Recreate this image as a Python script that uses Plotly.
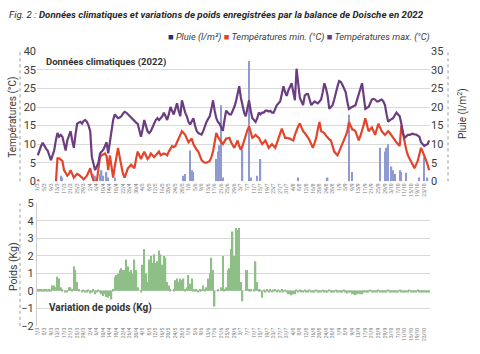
import plotly.graph_objects as go
import pandas as pd

# ---------------- data ----------------
dates = pd.date_range("2022-03-01", periods=240, freq="D")

tmax = [
    7, 8.5, 9.5, 10.4, 9.5, 8.8, 8.3, 7, 5.7, 7, 8.3, 11, 13, 12, 12.5, 12, 10, 8.3, 11, 12.5,
    13.5, 11, 9, 12.5, 15.5, 15.8, 16, 15.5, 16.3, 16.5, 16, 15, 13.5, 6.5, 4.5, 3, 4, 5, 7.5, 8,
    8.5, 9.5, 10.5, 7.5, 11, 14.5, 16.5, 18, 17.5, 17, 17.2, 17.5, 18.2, 18.7, 18.5, 18, 17.5, 17, 16.5, 16,
    15.8, 15.5, 13.5, 12, 14, 16.5, 15, 13.5, 13, 13.5, 14.5, 15.5, 16.5, 17, 16.5, 17, 17.5, 18.5, 17.5, 16.5,
    18, 20, 19, 18, 19.5, 21, 19, 17.5, 21.8, 20, 18.5, 17.5, 16, 15.3, 16, 17, 15, 13.6, 13, 12.8,
    12.6, 13.5, 15, 16, 16.8, 17.5, 19.5, 21.8, 19, 17, 16, 15.5, 14.5, 13.6, 16.5, 19, 18.5, 18, 18, 19,
    20, 21.5, 23.5, 25.6, 22.5, 20, 18.5, 17.5, 19.5, 21.8, 19, 17, 16.5, 16, 17, 18.5, 18, 18.5, 18.5, 19,
    19, 18.8, 19, 18.5, 18.5, 19.5, 20.5, 21, 21.5, 23.5, 25.6, 24, 23, 24.5, 25.5, 26.4, 24, 21.8, 30.3, 26,
    22.5, 21.5, 20.5, 23, 23.5, 23.5, 22, 20.5, 21, 21.5, 21.2, 21, 21.5, 22, 24, 26.4, 25, 23, 19.5, 20,
    20.5, 22, 24, 25.5, 27, 26.8, 26, 25, 24, 21.5, 19.5, 19.8, 20, 20.2, 20.5, 22, 23.5, 25, 26.4, 23,
    19.5, 19.8, 20, 21, 22, 22.2, 22, 21.5, 21.5, 21.8, 22, 21.5, 20.5, 18, 16, 16.5, 16.8, 17, 17.8, 18.5,
    18, 17.5, 15.5, 13, 11.7, 12, 12.5, 12.5, 12.6, 12.8, 12.6, 12.6, 12.3, 12, 10.5, 10, 9.5, 9.8, 10, 11,
]

tmin = [
    0.5, -1, -2, -1.5, -3, -2, -1, -2.5, -3, -2, -1.5, -0.5, 6.2, 6.2, 5.8, 5.5, 3, 2, 1.5, 2,
    3, 2, 1, 1.5, 2, 1.8, 1.5, 1, 0.5, 1, 1.5, 2.5, 3.5, 1.5, 0, -1, 0, 3, 6.5, 7,
    7.2, 7.5, 6.8, 3, 7, 4, 1, 4, 7, 9, 6.5, 4, 2, 1, 2, 3.5, 4, 4.5, 4, 3.5,
    6, 8, 7, 6, 7, 8, 7, 6, 6.5, 7.5, 7, 6.5, 7, 7.5, 8, 7, 7.2, 7.5, 7.3, 7,
    8, 9, 9.5, 9.2, 9.5, 10.5, 11.7, 12.5, 13.5, 13, 12.5, 11.5, 10.5, 11, 11.5, 10, 9, 8.5, 8, 7,
    5.7, 5.3, 5, 5, 5.2, 5.5, 6.5, 8, 10.5, 13, 12, 11, 10.5, 10, 10.8, 11.5, 11.6, 11.7, 10.5, 9.8,
    9, 10, 11, 9.5, 8.5, 9.5, 11, 12.5, 13.8, 14.8, 13, 11.7, 12, 12.5, 12, 11.7, 10.8, 10, 10.5, 11,
    10, 9, 9.5, 10, 9.5, 9, 10.3, 11.7, 13, 14.2, 13, 11.7, 11.7, 11.7, 11.5, 11.2, 11, 12.5, 14, 14.8,
    15.6, 14.5, 13.5, 13, 12.5, 11.8, 11, 10, 9, 10.3, 11.7, 14, 16, 13.5, 13.2, 13, 12.3, 11.7, 11.3, 11,
    9.5, 8, 7.5, 7, 8, 9, 10, 11, 12.2, 13.5, 16, 15, 14, 13.8, 13.5, 12.2, 11, 12.2, 13.5, 15.2,
    17, 15, 13.5, 14, 14.5, 13.5, 12.5, 14, 15.5, 14.5, 13.5, 13, 12.5, 13, 13.5, 13, 12.3, 11.7, 11, 10.5,
    10, 9.5, 15, 12.5, 10.5, 8.5, 7, 6.2, 5.5, 4.5, 3.5, 4.5, 5.5, 7.2, 9, 8, 7, 5.8, 4.5, 3,
]

rain = [
    0, 0, 0, 0, 0, 0, 0, 0, 0, 0, 0, 0, 0, 0, 1.5, 1, 0, 0, 0, 0,
    0, 0, 0, 0, 0, 0, 0, 0, 0, 0, 0, 0, 0, 0, 2, 1.5, 0, 0, 2, 3,
    1.5, 0, 2.5, 1, 0, 0, 0, 1, 0, 0, 0, 0, 0, 0, 0, 0, 0, 0, 0, 0,
    0, 0, 0, 0, 0, 0, 0, 0, 0, 0, 0, 0, 0, 0, 0, 0, 0, 0, 0, 0,
    0, 0, 0, 0, 0, 0, 0, 0, 0, 1.5, 2, 0, 0, 8.3, 3, 2.5, 0, 0, 0, 0,
    0, 0, 0, 0, 0, 0, 0, 0, 0, 6, 8, 9.7, 20.5, 1, 0, 0, 0, 0, 0, 0,
    0, 0, 0, 0, 0, 8.5, 0, 0, 0, 32.4, 1, 0, 0, 0, 1.5, 0, 6, 0, 0, 0,
    0, 0, 0, 0, 0, 0, 0, 0, 0, 0, 0, 0, 0, 0, 0, 0, 0, 0, 0, 1,
    0, 0, 0, 0, 0, 0, 0, 0, 0, 0, 0, 0, 0, 0, 0, 0, 0, 1, 0, 0,
    0, 0, 0, 0, 0, 0, 0, 0, 0, 0, 18, 0, 2.5, 0, 0, 0, 0, 0, 0, 0,
    0, 0, 0, 0, 0, 0, 0, 0, 0, 9, 0, 0, 8, 9, 10, 0, 4, 3, 2, 0,
    0, 3, 2.5, 0, 0, 2.3, 0, 0, 0, 0, 0, 0, 0, 1, 0, 0, 6.5, 0, 1, 0,
]

weight = [
    0.1, 0.1, 0.1, 0.05, 0.1, 0.1, 0.05, 0.1, 0.05, 0.3, 0.3, 0.2, 0.8, 0.7, 0.2, 0.1, 0, -0.1, -0.1, 0.2,
    0.2, 0.1, 1.4, 1.2, 0.5, 0.1, 0, -0.1, 0.05, -0.1, -0.1, 0.05, -0.15, -0.1, 0.1, -0.2, -0.1, 0.05, -0.1, -0.2,
    -0.3, -0.2, -0.35, -0.4, -0.3, -0.5, 0.1, 0.8, 0.9, 1.0, 1.2, 1.3, 1.2, 1.2, 1.8, 1.4, 1.1, 1.2, 1.0, 1.8,
    1.2, 0.2, 0, -0.1, 1.5, 2.4, 1.0, 0.5, 1.8, 2.0, 1.6, 2.1, 1.6, 1.7, 2.3, 2.1, 1.5, 2.0, 1.9, 0.5,
    0.3, 0.1, 0, 0.1, 0.6, 0.7, 0.5, 0.7, 0.6, 0.7, 0.1, 0.2, 0.9, 0.4, 0.7, 0.1, 0.05, 0.1, -0.1, 0.1,
    0.05, 0.3, 0.1, 0.2, 0.7, 1.0, 1.9, 1.2, -0.9, 0, 0.1, 0, 0.2, 2.0, 0.1, 0.2, 1.2, 1.3, 2.4, 3.4,
    2.0, 3.6, 3.5, 3.6, 0.5, -0.6, 0, 1.2, 1.2, 0.1, 0.1, 0, 0.1, 1.7, 0.5, 0.1, 0.05, -0.4, 0.05, -0.1,
    0.1, -0.05, 0.1, -0.1, 0.05, 0.1, -0.1, 0.05, -0.05, 0.1, -0.1, 0.05, -0.1, -0.2, -0.2, -0.25, -0.2, -0.2, 0.05, -0.05,
    0.05, -0.1, -0.05, 0.05, -0.1, -0.1, 0.05, -0.05, -0.1, -0.1, 0.05, -0.1, -0.05, -0.1, 0.05, -0.1, -0.1, -0.05, 0.05, -0.1,
    -0.1, -0.05, 0.05, -0.1, -0.1, -0.05, -0.1, 0.05, -0.1, -0.15, -0.1, -0.05, -0.2, -0.2, -0.25, -0.2, -0.15, -0.2, -0.2, -0.1,
    -0.1, -0.05, -0.1, 0.05, -0.1, -0.05, -0.1, -0.1, 0.05, -0.1, -0.05, -0.1, -0.1, -0.05, 0.05, -0.1, -0.1, -0.05, -0.1, -0.05,
    -0.1, 0.05, -0.1, -0.05, -0.1, -0.1, -0.05, 0.05, -0.1, -0.05, -0.1, -0.1, 0.05, -0.05, -0.1, -0.1, -0.05, -0.1, -0.05, -0.1,
]

temp_tickvals = [0, 5, 10, 15, 20, 25, 30, 35]
temp_ticktext = ["0", "5", "10", "15", "20", "25", "35", "40"]
rain_tickvals = [0, 5, 10, 15, 20, 25, 30, 35]
weight_tickvals = [-2, -1, 0, 1, 2, 3, 4, 5]

# ---------------- styling ----------------
W, H = 480, 354
ML, MR = 37, 50
PW = W - ML - MR
FONT = "Roboto, Arial, sans-serif"
TXT = "#3a3a3a"
GRID = "#d9d9d9"


def px_x(x):
    return (x - ML) / PW


def px_y(y):
    return 1 - y / H


C_RAIN = "#8f99d2"
C_RAIN_LEG = "#1f336f"
C_MIN = "#e2452b"
C_MAX = "#6b3c80"
C_W = "#8dbf87"

fig = go.Figure()
fig.add_trace(go.Bar(x=dates, y=rain, marker=dict(color=C_RAIN, line=dict(width=0)),
                     xaxis="x", yaxis="y", name="Pluie (l/m²)", showlegend=False))
fig.add_trace(go.Scatter(x=dates, y=tmin, mode="lines", line=dict(color=C_MIN, width=2.2),
                         xaxis="x", yaxis="y2", name="Températures min. (°C)", showlegend=False))
fig.add_trace(go.Scatter(x=dates, y=tmax, mode="lines", line=dict(color=C_MAX, width=2.2),
                         xaxis="x", yaxis="y2", name="Températures max. (°C)", showlegend=False))
fig.add_trace(go.Bar(x=dates, y=weight, marker=dict(color=C_W, line=dict(width=0)),
                     xaxis="x2", yaxis="y3", name="Variation de poids (Kg)", showlegend=False))

xr = ["2022-02-28 12:00", "2022-10-26 12:00"]
xcommon = dict(type="date", range=xr, tick0="2022-03-01", dtick=4 * 86400000,
               tickformat="%-d/%-m", tickangle=-90, tickfont=dict(size=5, color="#777", family=FONT),
               showgrid=False, zeroline=False, showline=False, ticks="", fixedrange=True)

top_dom = [px_y(182), px_y(47)]
bot_dom = [px_y(332), px_y(205)]

TICKF = dict(size=11, color=TXT, family=FONT)

fig.update_layout(
    width=W, height=H,
    margin=dict(l=ML, r=MR, t=0, b=0, pad=0),
    paper_bgcolor="white", plot_bgcolor="white",
    bargap=0.15,
    font=dict(family=FONT, color=TXT),
    xaxis=dict(domain=[0, 1], anchor="y", **xcommon),
    xaxis2=dict(domain=[0, 1], anchor="y3", **xcommon),
    yaxis=dict(domain=top_dom, anchor="x", side="right", range=[0, 35], tickvals=rain_tickvals,
               showgrid=True, gridcolor=GRID, gridwidth=1, zeroline=False, showline=False,
               tickfont=TICKF, ticks=""),
    yaxis2=dict(overlaying="y", anchor="x", side="left", range=[0, 35], tickvals=temp_tickvals,
                ticktext=temp_ticktext, showgrid=False, zeroline=False, showline=False,
                tickfont=TICKF, ticks=""),
    yaxis3=dict(domain=bot_dom, anchor="x2", range=[-2, 5], tickvals=weight_tickvals,
                showgrid=True, gridcolor=GRID, gridwidth=1, zeroline=False,
                showline=True, linecolor="#cfcfcf", linewidth=1,
                tickfont=TICKF, ticks=""),
)

ann = []
ann.append(dict(xref="paper", yref="paper", x=px_x(7), y=px_y(9), xanchor="left", yanchor="middle",
                showarrow=False,
                text="<i>Fig. 2 : <b>Données climatiques et variations de poids enregistrées par la balance de Doische en 2022</b></i>",
                font=dict(size=9.7, color="#2a2a2a", family=FONT)))
legend_txt = (f"<span style='color:{C_RAIN_LEG}'>■</span><i> Pluie (l/m²) </i>"
              f"<span style='color:{C_MIN}'>■</span><i> Températures min. (°C) </i>"
              f"<span style='color:{C_MAX}'>■</span><i> Températures max. (°C)</i>")
ann.append(dict(xref="paper", yref="paper", x=px_x(432), y=px_y(32), xanchor="right", yanchor="middle",
                showarrow=False, text=legend_txt, font=dict(size=9.3, color=TXT, family=FONT)))
ann.append(dict(xref="paper", yref="paper", x=px_x(13), y=px_y(116), xanchor="center", yanchor="middle",
                showarrow=False, textangle=-90, text="Températures (°C)",
                font=dict(size=10, color=TXT, family=FONT)))
ann.append(dict(xref="paper", yref="paper", x=px_x(463), y=px_y(112), xanchor="center", yanchor="middle",
                showarrow=False, textangle=-90, text="Pluie (l/m<sup>2</sup>)",
                font=dict(size=10, color=TXT, family=FONT)))
ann.append(dict(xref="paper", yref="paper", x=px_x(13), y=px_y(271), xanchor="center", yanchor="middle",
                showarrow=False, textangle=-90, text="Poids (Kg)",
                font=dict(size=10.5, color=TXT, family=FONT)))
ann.append(dict(xref="paper", yref="paper", x=px_x(44), y=px_y(58), xanchor="left", yanchor="middle",
                showarrow=False, text="<b>Données climatiques (2022)</b>",
                font=dict(size=9.5, color="#333", family=FONT)))
ann.append(dict(xref="paper", yref="paper", x=px_x(47), y=px_y(313), xanchor="left", yanchor="middle",
                showarrow=False, text="<b>Variation de poids (Kg)</b>",
                font=dict(size=10, color="#333", family=FONT, shadow="0px 0px 2px white")))
fig.update_layout(annotations=ann)

shapes = []
for (x, y0, y1) in [(20, 47, 182), (448, 47, 182), (20, 205, 332)]:
    shapes.append(dict(type="line", xref="paper", yref="paper", x0=px_x(x), x1=px_x(x),
                       y0=px_y(y1), y1=px_y(y0), line=dict(color="#9a9a9a", width=1, dash="dot")))
fig.update_layout(shapes=shapes)

fig.write_html("out.html", config={"displayModeBar": False})
